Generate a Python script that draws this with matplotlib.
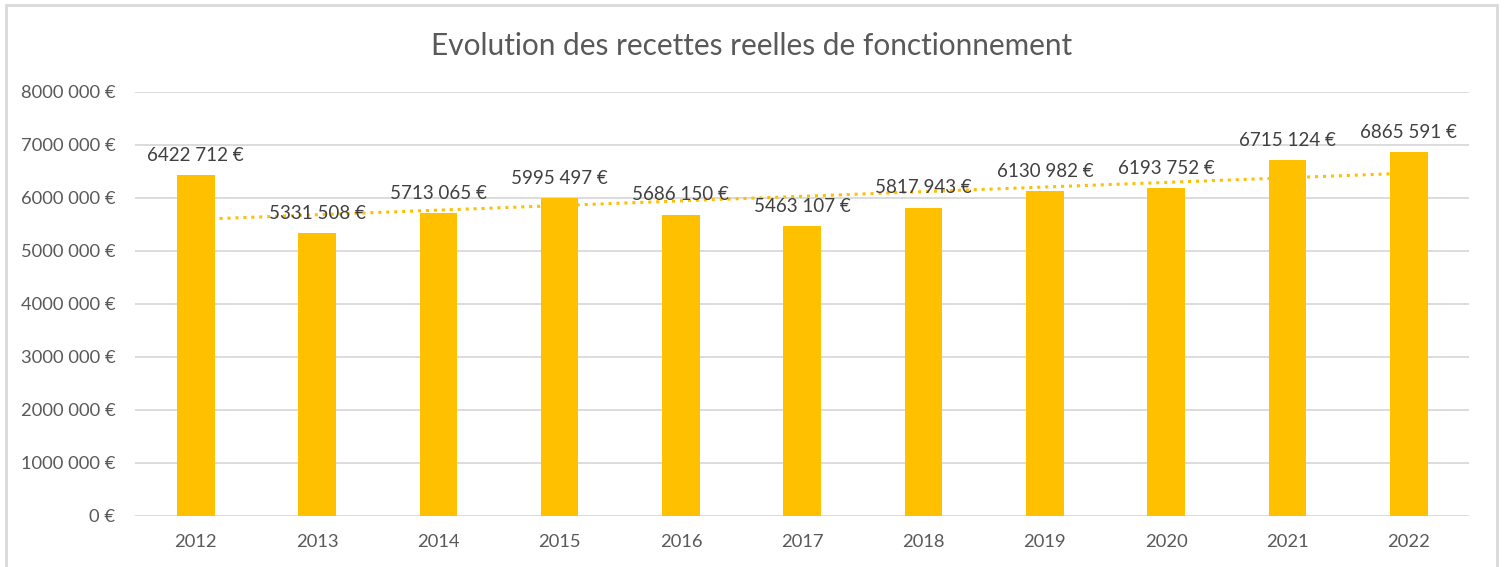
import numpy as np
import matplotlib.pyplot as plt
from matplotlib.patches import Rectangle

# Données
annees = ['2012', '2013', '2014', '2015', '2016', '2017', '2018', '2019', '2020', '2021', '2022']
recettes = [6422712, 5331508, 5713065, 5995497, 5686150, 5463107, 5817943, 6130982, 6193752, 6715124, 6865591]
graduations = [0, 1000000, 2000000, 3000000, 4000000, 5000000, 6000000, 7000000, 8000000]

jaune = '#FFC000'
gris_texte = '#595959'
gris_grille = '#D9D9D9'

plt.rcParams['font.family'] = ['Lato', 'DejaVu Sans']


def format_euro(v):
    # format "6422 712 €" comme dans le tableur
    v = int(v)
    if v == 0:
        return '0 €'
    millions = v // 1000000
    reste = v % 1000000
    return '%d%03d %03d €' % (millions, reste // 1000, reste % 1000) if millions else '%d %03d €' % (reste // 1000, reste % 1000)


fig = plt.figure(figsize=(15.04, 5.67), dpi=100)
ax = fig.add_axes([0.0898, 0.090, 0.8872, 0.748])

x = np.arange(len(annees))

# Courbe de tendance linéaire (derrière les barres)
pente, origine = np.polyfit(x, recettes, 1)
ax.plot(x, pente * x + origine, linestyle=(0, (1, 1.6)), color=jaune, linewidth=2.2, zorder=2)

ax.bar(x, recettes, width=0.31, color=jaune, zorder=3)

for xi, v in zip(x, recettes):
    ax.annotate(format_euro(v), (xi, v), xytext=(0, 8), textcoords='offset points',
                ha='center', va='bottom', fontsize=13.5, color='#404040', zorder=5)

ax.set_xlim(-0.5, len(annees) - 0.5)
ax.set_ylim(0, 8000000)
ax.set_xticks(x)
ax.set_xticklabels(annees)
ax.set_yticks(graduations)
ax.set_yticklabels([format_euro(g) for g in graduations])
ax.tick_params(axis='both', length=0, labelsize=13.2, colors=gris_texte)
ax.tick_params(axis='y', pad=14)
ax.tick_params(axis='x', pad=13)
ax.grid(axis='y', color=gris_grille, linewidth=1.3, zorder=0)
ax.set_axisbelow(True)
for s in ax.spines.values():
    s.set_visible(False)

fig.text(0.5, 0.919, 'Evolution des recettes reelles de fonctionnement', ha='center', va='center',
         fontsize=21.4, color=gris_texte)

# cadre du graphique
fig.patches.append(Rectangle((6 / 1504, -0.01), 1491 / 1504, 1 - 5 / 567 + 0.01, transform=fig.transFigure,
                             fill=False, edgecolor=gris_grille, linewidth=2))

fig.savefig('out.png', dpi=100)
